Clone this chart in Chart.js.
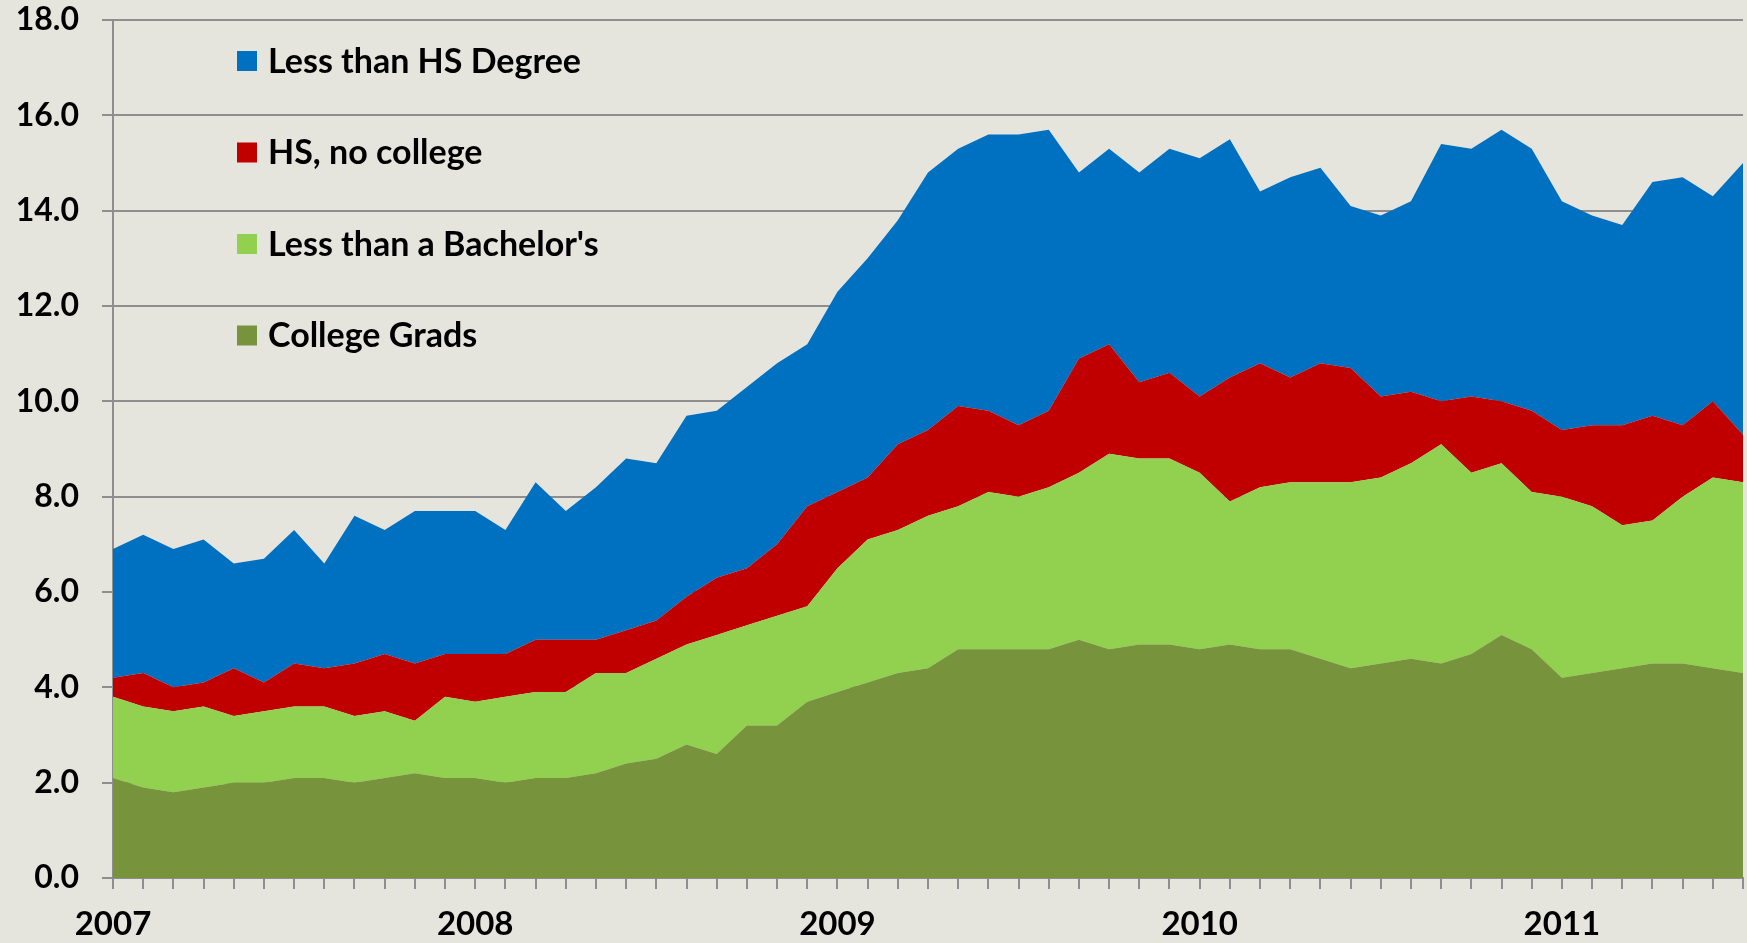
<!DOCTYPE html>
<html>
<head>
<meta charset="utf-8">
<script src="https://cdn.jsdelivr.net/npm/chart.js@4"></script>
<style>
  html, body { margin: 0; padding: 0; background: #e5e5de; }
  canvas { display: block; }
</style>
</head>
<body>
<canvas id="chart" width="1747" height="943"></canvas>
<script>
  'use strict';

  // monthly, Jan 2007 .. Jul 2011
  var years = ['2007', '2008', '2009', '2010', '2011'];
  var monthCount = 55;

  var collegeGrads = [2.1, 1.9, 1.8, 1.9, 2.0, 2.0, 2.1, 2.1, 2.0, 2.1, 2.2, 2.1,
    2.1, 2.0, 2.1, 2.1, 2.2, 2.4, 2.5, 2.8, 2.6, 3.2, 3.2, 3.7,
    3.9, 4.1, 4.3, 4.4, 4.8, 4.8, 4.8, 4.8, 5.0, 4.8, 4.9, 4.9,
    4.8, 4.9, 4.8, 4.8, 4.6, 4.4, 4.5, 4.6, 4.5, 4.7, 5.1, 4.8,
    4.2, 4.3, 4.4, 4.5, 4.5, 4.4, 4.3];
  var lessBachelors = [1.7, 1.7, 1.7, 1.7, 1.4, 1.5, 1.5, 1.5, 1.4, 1.4, 1.1, 1.7,
    1.6, 1.8, 1.8, 1.8, 2.1, 1.9, 2.1, 2.1, 2.5, 2.1, 2.3, 2.0,
    2.6, 3.0, 3.0, 3.2, 3.0, 3.3, 3.2, 3.4, 3.5, 4.1, 3.9, 3.9,
    3.7, 3.0, 3.4, 3.5, 3.7, 3.9, 3.9, 4.1, 4.6, 3.8, 3.6, 3.3,
    3.8, 3.5, 3.0, 3.0, 3.5, 4.0, 4.0];
  var hsNoCollege = [0.4, 0.7, 0.5, 0.5, 1.0, 0.6, 0.9, 0.8, 1.1, 1.2, 1.2, 0.9,
    1.0, 0.9, 1.1, 1.1, 0.7, 0.9, 0.8, 1.0, 1.2, 1.2, 1.5, 2.1,
    1.6, 1.3, 1.8, 1.8, 2.1, 1.7, 1.5, 1.6, 2.4, 2.3, 1.6, 1.8,
    1.6, 2.6, 2.6, 2.2, 2.5, 2.4, 1.7, 1.5, 0.9, 1.6, 1.3, 1.7,
    1.4, 1.7, 2.1, 2.2, 1.5, 1.6, 1.0];
  var lessHS = [2.7, 2.9, 2.9, 3.0, 2.2, 2.6, 2.8, 2.2, 3.1, 2.6, 3.2, 3.0,
    3.0, 2.6, 3.3, 2.7, 3.2, 3.6, 3.3, 3.8, 3.5, 3.8, 3.8, 3.4,
    4.2, 4.6, 4.7, 5.4, 5.4, 5.8, 6.1, 5.9, 3.9, 4.1, 4.4, 4.7,
    5.0, 5.0, 3.6, 4.2, 4.1, 3.4, 3.8, 4.0, 5.4, 5.2, 5.7, 5.5,
    4.8, 4.4, 4.2, 4.9, 5.2, 4.3, 5.7];

  var months = [];
  for (var i = 0; i < monthCount; i++) {
    months.push(years[Math.floor(i / 12)] + '-' + (i % 12 + 1));
  }

  var bg = '#e5e5de';
  var gridColor = '#8e8e8e';
  var fontFamily = 'Lato, "Open Sans", sans-serif';

  var bgPlugin = {
    id: 'bg',
    beforeDraw: function (chart) {
      var c = chart.ctx;
      c.save();
      c.fillStyle = bg;
      c.fillRect(0, 0, chart.width, chart.height);
      c.restore();
    }
  };

  // legend inside the plot, top left, reversed order
  var legendPlugin = {
    id: 'insideLegend',
    afterDraw: function (chart) {
      var c = chart.ctx;
      var sets = chart.data.datasets.slice().reverse();
      c.save();
      c.font = 'bold 34px ' + fontFamily;
      c.textBaseline = 'middle';
      c.textAlign = 'left';
      sets.forEach(function (ds, k) {
        var y = 61 + k * 91.5;
        c.fillStyle = ds.backgroundColor;
        c.fillRect(237, y - 10, 20, 20);
        c.fillStyle = '#000';
        c.fillText(ds.label, 268, y + 1);
      });
      c.restore();
    }
  };

  var ctx = document.getElementById('chart');
  var chart = new Chart(ctx, {
    type: 'line',
    data: {
      labels: months,
      datasets: [
        { label: 'College Grads', data: collegeGrads, backgroundColor: '#77933c', fill: 'origin' },
        { label: "Less than a Bachelor's", data: lessBachelors, backgroundColor: '#92d050', fill: '-1' },
        { label: 'HS, no college', data: hsNoCollege, backgroundColor: '#c00000', fill: '-1' },
        { label: 'Less than HS Degree', data: lessHS, backgroundColor: '#0070c0', fill: '-1' }
      ]
    },
    options: {
      responsive: false,
      devicePixelRatio: 1,
      animation: false,
      elements: {
        line: { borderWidth: 0, tension: 0 },
        point: { radius: 0, hoverRadius: 0 }
      },
      layout: { padding: { top: 20, right: 4, left: 0, bottom: 0 } },
      plugins: {
        legend: { display: false },
        tooltip: { enabled: false }
      },
      scales: {
        x: {
          stacked: true,
          offset: false,
          afterFit: function (scale) {
            scale.height = 65;
            scale.paddingLeft = 0;
            scale.paddingRight = 0;
          },
          grid: {
            drawOnChartArea: false,
            color: gridColor,
            lineWidth: 2,
            tickLength: 11
          },
          border: { color: gridColor, width: 2 },
          ticks: {
            autoSkip: false,
            maxRotation: 0,
            padding: 16,
            color: '#000',
            font: { family: fontFamily, size: 33, weight: 'bold' },
            callback: function (v, idx) {
              return idx % 12 === 0 ? years[idx / 12] : '';
            }
          }
        },
        y: {
          stacked: true,
          min: 0,
          max: 18,
          afterFit: function (scale) {
            scale.width = 113;
            scale.paddingTop = 0;
            scale.paddingBottom = 0;
          },
          grid: {
            color: gridColor,
            lineWidth: 2,
            tickLength: 11
          },
          border: { color: gridColor, width: 2 },
          ticks: {
            stepSize: 2,
            padding: 23,
            color: '#000',
            font: { family: fontFamily, size: 32, weight: 'bold' },
            callback: function (v) { return v.toFixed(1); }
          }
        }
      }
    },
    plugins: [bgPlugin, legendPlugin]
  });
</script>
</body>
</html>
